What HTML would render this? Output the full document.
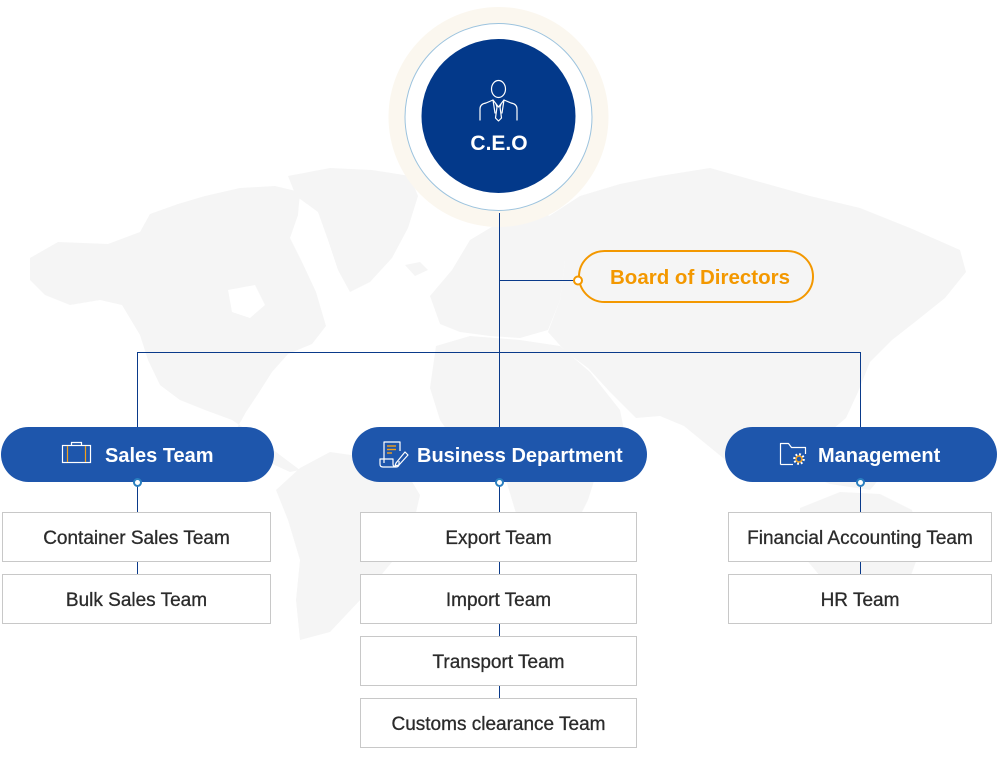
<!DOCTYPE html>
<html><head><meta charset="utf-8">
<style>
html,body{margin:0;padding:0;background:#fff;}
#wrap{position:relative;width:1000px;height:760px;overflow:hidden;background:#fff;font-family:"Liberation Sans",sans-serif;}
svg{position:absolute;left:0;top:0;}
.pill{position:absolute;top:427px;height:55px;border-radius:28px;background:#1e56ac;}
.pt{position:absolute;top:444px;height:24px;line-height:24px;color:#fff;font-weight:bold;font-size:20px;white-space:nowrap;}
.box{position:absolute;height:48px;border:1.5px solid #c8c8c8;background:#fff;box-sizing:content-box;text-align:center;line-height:52px;font-size:19px;color:#2b2b2b;-webkit-text-stroke:0.3px #2b2b2b;white-space:nowrap;overflow:hidden;}
</style></head><body>
<div id="wrap">
<svg width="1000" height="760" viewBox="0 0 1000 760">
  <!-- world map approximation -->
  <g fill="#f5f5f5" fill-rule="evenodd">
    <path d="M30,258 L58,242 L108,244 L140,232 L150,214 L178,204 L205,196 L240,188 L275,186 L300,192 L298,215 L290,238 L302,262 L316,292 L326,326 L312,344 L288,354 L272,372 L258,394 L246,412 L236,430 L250,448 L268,462 L290,472 L300,470 L280,455 L250,432 L232,420 L205,410 L180,400 L160,385 L148,360 L140,335 L122,305 L100,300 L70,305 L45,295 L30,280 Z M228,290 L255,285 L265,305 L250,318 L232,312 Z"/>
    <path d="M288,176 L330,168 L372,170 L410,176 L418,196 L408,228 L392,258 L370,282 L350,292 L338,270 L328,240 L318,212 L296,196 Z"/>
    <path d="M405,265 L420,262 L428,270 L415,276 Z"/>
    <path d="M300,468 L330,452 L372,458 L405,470 L420,495 L412,530 L392,562 L362,598 L330,632 L300,640 L296,600 L300,560 L288,520 L276,490 Z"/>
    <path d="M430,296 L452,270 L470,240 L500,222 L540,212 L560,220 L565,260 L560,300 L548,330 L520,338 L490,336 L460,332 L440,324 Z"/>
    <path d="M436,346 L470,336 L520,340 L560,346 L590,372 L620,410 L624,430 L600,462 L588,500 L568,540 L548,562 L528,560 L518,520 L506,480 L486,450 L458,446 L440,420 L430,388 Z"/>
    <path d="M540,222 L580,196 L620,184 L660,176 L710,168 L760,182 L810,196 L860,208 L910,228 L960,250 L966,272 L945,298 L915,322 L892,340 L870,362 L858,392 L846,418 L820,440 L792,436 L770,428 L750,452 L728,462 L706,444 L684,426 L660,416 L636,418 L610,392 L588,368 L566,352 L548,332 L560,300 L565,260 Z"/>
    <path d="M780,450 L812,460 L850,470 L880,478 L870,490 L830,484 L795,470 Z"/>
    <path d="M800,508 L840,492 L880,494 L912,510 L922,545 L910,578 L880,592 L848,586 L820,576 L800,552 Z"/>
    <path d="M940,590 L952,598 L946,620 L936,612 Z"/>
  </g>
  <!-- CEO -->
  <circle cx="498.5" cy="117" r="110" fill="#fbf7ef"/>
  <circle cx="498.5" cy="117" r="93.5" fill="#fff" stroke="#9cc3de" stroke-width="1"/>
  <circle cx="498.5" cy="116" r="77" fill="#03398a"/>
  <g fill="none" stroke="#fff" stroke-width="1.2" stroke-linecap="round" stroke-linejoin="round">
    <ellipse cx="498.5" cy="89" rx="7" ry="8.5"/>
    <path d="M480,120 L480,109 Q480,104 486,103 L493,100 L498.5,107 L504,100 L511,103 Q517,104 517,109 L517,120"/>
    <path d="M496,104 L497,107 L495.5,118 L498.5,121 L501.5,118 L500,107 L501,104"/>
    <path d="M493,100 L495,113"/><path d="M504,100 L502,113"/>
  </g>
  <!-- connectors -->
  <g stroke="#0a3a8a" stroke-width="1" fill="none">
    <line x1="499.5" y1="213" x2="499.5" y2="428"/>
    <line x1="499.5" y1="280.5" x2="578" y2="280.5"/>
    <line x1="137.5" y1="352.5" x2="860.5" y2="352.5"/>
    <line x1="137.5" y1="352" x2="137.5" y2="428"/>
    <line x1="860.5" y1="352" x2="860.5" y2="428"/>
    <line x1="137.5" y1="486" x2="137.5" y2="513"/>
    <line x1="137.5" y1="562" x2="137.5" y2="575"/>
    <line x1="499.5" y1="486" x2="499.5" y2="513"/>
    <line x1="499.5" y1="562" x2="499.5" y2="575"/>
    <line x1="499.5" y1="624" x2="499.5" y2="637"/>
    <line x1="499.5" y1="686" x2="499.5" y2="699"/>
    <line x1="860.5" y1="486" x2="860.5" y2="513"/>
    <line x1="860.5" y1="562" x2="860.5" y2="575"/>
  </g>
</svg>

<!-- Board of directors -->
<div style="position:absolute;left:578px;top:250px;width:232px;height:49px;border:2px solid #f39800;border-radius:27px;"></div>
<div style="position:absolute;left:584px;top:265px;width:232px;text-align:center;line-height:26px;font-size:20.5px;font-weight:bold;color:#f39800;">Board of Directors</div>

<!-- pills -->
<div class="pill" style="left:1px;width:273px;"></div>
<div class="pill" style="left:352px;width:295px;"></div>
<div class="pill" style="left:725px;width:272px;"></div>
<div class="pt" style="left:105px;">Sales Team</div>
<div class="pt" style="left:417px;">Business Department</div>
<div class="pt" style="left:818px;">Management</div>

<svg width="1000" height="760" viewBox="0 0 1000 760">
  <!-- board dot -->
  <circle cx="578" cy="280.5" r="4" fill="#fff" stroke="#f39800" stroke-width="2"/>
  <!-- pill dots -->
  <g fill="#fff" stroke="#2a7fc0" stroke-width="2">
    <circle cx="137.5" cy="482.5" r="3.5"/>
    <circle cx="499.5" cy="482.5" r="3.5"/>
    <circle cx="860.5" cy="482.5" r="3.5"/>
  </g>
  <!-- suitcase icon -->
  <g fill="none" stroke="#fff" stroke-width="1.2">
    <rect x="62.5" y="445.5" width="28" height="17"/>
    <path d="M71.5,445.5 L71.5,442.5 L81.5,442.5 L81.5,445.5"/>
  </g>
  <g stroke="#f3a11a" stroke-width="1.2">
    <line x1="67.5" y1="446" x2="67.5" y2="462"/>
    <line x1="85.5" y1="446" x2="85.5" y2="462"/>
  </g>
  <!-- document icon -->
  <g fill="none" stroke="#fff" stroke-width="1.2" stroke-linejoin="round">
    <path d="M384,463 L384,442 L400,442 L400,451"/>
    <path d="M380,459 L380,464 Q380,467 383,467 L396,467 Q393,467 393,464 L393,459 Z"/>
    <path d="M396,467 Q399,467 399,464 L399,461"/>
    <path d="M396,463 L405,452 L408,455 L399,465 L395,466 Z"/>
  </g>
  <g stroke="#f3a11a" stroke-width="1.4">
    <line x1="387" y1="446" x2="396" y2="446"/>
    <line x1="387" y1="449.5" x2="396" y2="449.5"/>
    <line x1="387" y1="453" x2="392" y2="453"/>
  </g>
  <!-- folder icon -->
  <g fill="none" stroke="#fff" stroke-width="1.2" stroke-linejoin="round">
    <path d="M780.5,464.5 L780.5,443.5 L788.5,443.5 L791.5,447.5 L805.5,447.5 L805.5,454"/>
    <path d="M780.5,464.5 L793,464.5"/>
  </g>
  <g>
    <circle cx="799" cy="459" r="4.6" fill="none" stroke="#fff" stroke-width="2.4" stroke-dasharray="1.8 1.8"/>
    <circle cx="799" cy="459" r="3" fill="none" stroke="#f3a11a" stroke-width="1.5"/>
  </g>
</svg>

<!-- boxes -->
<div class="box" style="left:2px;top:512px;width:267px;">Container Sales Team</div>
<div class="box" style="left:2px;top:574px;width:267px;">Bulk Sales Team</div>

<div class="box" style="left:360px;top:512px;width:275px;">Export Team</div>
<div class="box" style="left:360px;top:574px;width:275px;">Import Team</div>
<div class="box" style="left:360px;top:636px;width:275px;">Transport Team</div>
<div class="box" style="left:360px;top:698px;width:275px;">Customs clearance Team</div>

<div class="box" style="left:728px;top:512px;width:262px;">Financial Accounting Team</div>
<div class="box" style="left:728px;top:574px;width:262px;">HR Team</div>

<div style="position:absolute;left:440px;top:131px;width:118px;text-align:center;line-height:26px;font-size:21px;font-weight:bold;color:#fff;">C.E.O</div>
</div>
</body></html>
